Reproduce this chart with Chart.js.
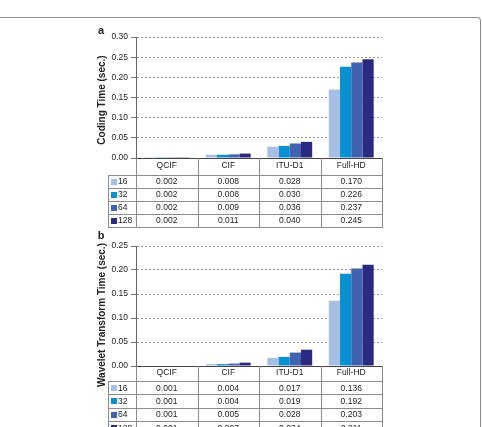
<!DOCTYPE html>
<html>
<head>
<meta charset="utf-8">
<script src="https://cdn.jsdelivr.net/npm/chart.js@4.4.1/dist/chart.umd.min.js"></script>
<style>
  body { margin: 0; background: #fff; width: 482px; height: 427px; overflow: hidden; position: relative; }
  .frame { position: absolute; left: -10px; top: 17px; width: 490px; height: 500px;
           border-top: 1px solid #8a8a8a; border-right: 1px solid #8a8a8a; border-top-right-radius: 4px; }
  canvas { position: absolute; left: 0; }
  #chartA { top: 0; }
  #chartB { top: 230px; }
</style>
</head>
<body>
<div class="frame"></div>
<canvas id="chartA" width="482" height="230"></canvas>
<canvas id="chartB" width="482" height="197"></canvas>
<script>
// 解像度カテゴリ
var CATEGORIES = ['QCIF', 'CIF', 'ITU-D1', 'Full-HD'];
var SERIES_LABELS = ['16', '32', '64', '128'];
var SERIES_COLORS = ['#a7bfe4', '#0b8fd3', '#4162ae', '#2b2a80'];

// (a) Coding time
var CODING_16 = [0.002, 0.008, 0.028, 0.170];
var CODING_32 = [0.002, 0.008, 0.030, 0.226];
var CODING_64 = [0.002, 0.009, 0.036, 0.237];
var CODING_128 = [0.002, 0.011, 0.040, 0.245];
var CODING_TICKS = [0, 0.05, 0.10, 0.15, 0.20, 0.25, 0.30];

// (b) Wavelet transform time
var WAVELET_16 = [0.001, 0.004, 0.017, 0.136];
var WAVELET_32 = [0.001, 0.004, 0.019, 0.192];
var WAVELET_64 = [0.001, 0.005, 0.028, 0.203];
var WAVELET_128 = [0.001, 0.007, 0.034, 0.211];
var WAVELET_TICKS = [0, 0.05, 0.10, 0.15, 0.20, 0.25];

var FONT = "'Liberation Sans', Arial, sans-serif";
var TEXT = '#222';

function makePanel(canvasId, seriesData, ticks, cfg) {
  var datasets = seriesData.map(function(d, i) {
    return {
      label: SERIES_LABELS[i],
      data: d,
      backgroundColor: SERIES_COLORS[i],
      borderWidth: 0,
      categoryPercentage: 0.73,
      barPercentage: 1.0
    };
  });

  // 表（データテーブル）とラベルを描く
  var tablePlugin = {
    id: 'dataTable',
    afterDraw: function(chart) {
      var ctx = chart.ctx;
      var xs = chart.scales.x;
      var area = chart.chartArea;
      var n = CATEGORIES.length;
      var colW = (area.right - area.left) / n;
      var edges = [];
      for (var i = 0; i <= n; i++) {
        edges.push(i < n ? xs.getPixelForValue(i) - colW / 2 : xs.getPixelForValue(n - 1) + colW / 2);
      }
      var top = area.bottom;
      var headBottom = top + cfg.headerH;
      var rows = chart.data.datasets;
      var rowsBottom = headBottom + cfg.rowH * rows.length;

      ctx.save();
      ctx.strokeStyle = '#8c8c8c';
      ctx.lineWidth = 1;
      ctx.beginPath();
      edges.forEach(function(e) {
        var px = Math.round(e) + 0.5;
        ctx.moveTo(px, top);
        ctx.lineTo(px, rowsBottom);
      });
      ctx.moveTo(cfg.legendLeft + 0.5, headBottom);
      ctx.lineTo(cfg.legendLeft + 0.5, rowsBottom);
      for (var r = 0; r <= rows.length; r++) {
        var yy = Math.round(headBottom + r * cfg.rowH) + 0.5;
        ctx.moveTo(cfg.legendLeft, yy);
        ctx.lineTo(Math.round(edges[n]) + 1, yy);
      }
      ctx.stroke();

      ctx.font = '8.5px ' + FONT;
      ctx.textBaseline = 'middle';
      rows.forEach(function(ds, r) {
        var cy = headBottom + (r + 0.5) * cfg.rowH;
        ctx.fillStyle = ds.backgroundColor;
        ctx.fillRect(cfg.legendLeft + 3, Math.round(cy) - 3, 6, 6);
        ctx.fillStyle = TEXT;
        ctx.textAlign = 'left';
        ctx.fillText(ds.label, cfg.legendLeft + 10, cy + 0.5);
        ctx.textAlign = 'center';
        ds.data.forEach(function(v, i) {
          ctx.fillText(v.toFixed(3), xs.getPixelForValue(i), cy + 0.5);
        });
      });

      // パネル記号
      ctx.font = 'bold 11px ' + FONT;
      ctx.textAlign = 'center';
      ctx.fillText(cfg.letter, cfg.letterX, cfg.letterY);

      // 縦軸タイトル
      ctx.font = 'bold 10px ' + FONT;
      ctx.translate(cfg.titleX, cfg.titleY);
      ctx.rotate(-Math.PI / 2);
      ctx.fillText(cfg.title, 0, 0);
      ctx.restore();
    }
  };

  return new Chart(document.getElementById(canvasId), {
    type: 'bar',
    data: { labels: CATEGORIES, datasets: datasets },
    options: {
      responsive: false,
      animation: false,
      layout: { padding: { left: 92, right: 100, top: cfg.padTop, bottom: cfg.padBottom } },
      plugins: { legend: { display: false }, tooltip: { enabled: false } },
      scales: {
        x: {
          grid: { display: false, drawTicks: false },
          border: { display: true, color: '#444', width: 1 },
          ticks: { color: TEXT, font: { family: FONT, size: 8.5 }, padding: cfg.xPad, maxRotation: 0 },
          afterFit: function(s) { s.height = cfg.headerH; }
        },
        y: {
          min: 0,
          max: ticks[ticks.length - 1],
          afterBuildTicks: function(s) { s.ticks = ticks.map(function(v) { return { value: v }; }); },
          grid: { color: '#9a9a9a', tickLength: 5, tickColor: '#777', tickBorderDash: [] },
          border: { display: true, color: '#666', width: 1, dash: [2, 2] },
          ticks: {
            color: TEXT, font: { family: FONT, size: 8.5 }, padding: 3,
            callback: function(v) { return Number(v).toFixed(2); }
          },
          afterFit: function(s) { s.width = 44; }
        }
      }
    },
    plugins: [tablePlugin]
  });
}

makePanel('chartA', [CODING_16, CODING_32, CODING_64, CODING_128], CODING_TICKS, {
  padTop: 37, padBottom: 55, headerH: 17, rowH: 13, xPad: 3,
  legendLeft: 108, letter: 'a', letterX: 101, letterY: 31,
  title: 'Coding Time (sec.)', titleX: 102, titleY: 100
});

makePanel('chartB', [WAVELET_16, WAVELET_32, WAVELET_64, WAVELET_128], WAVELET_TICKS, {
  padTop: 16, padBottom: 46, headerH: 15, rowH: 13.4, xPad: 2,
  legendLeft: 108, letter: 'b', letterX: 101, letterY: 6,
  title: 'Wavelet Transform Time (sec.)', titleX: 102, titleY: 85
});
</script>
</body>
</html>
